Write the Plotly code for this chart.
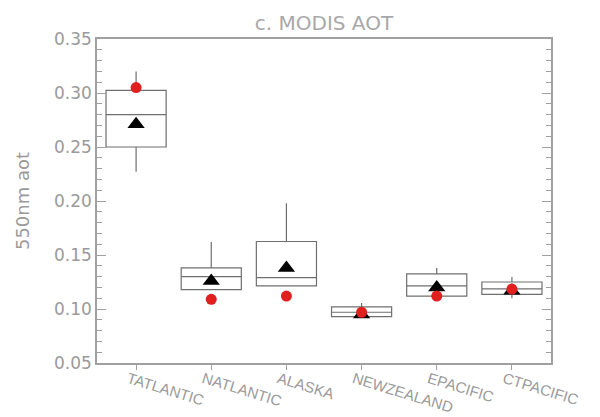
import plotly.graph_objects as go

# Regional summary statistics of MODIS 550 nm aerosol optical thickness
regions = ["TATLANTIC", "NATLANTIC", "ALASKA", "NEWZEALAND", "EPACIFIC", "CTPACIFIC"]
whisker_low = [0.227, 0.118, 0.1215, 0.092, 0.112, 0.110]
q1 = [0.250, 0.118, 0.1215, 0.093, 0.112, 0.1135]
median = [0.280, 0.130, 0.129, 0.097, 0.1215, 0.1187]
q3 = [0.3025, 0.138, 0.1625, 0.102, 0.1326, 0.125]
whisker_high = [0.320, 0.162, 0.198, 0.1055, 0.138, 0.1296]
mean_aot = [0.271, 0.126, 0.138, 0.095, 0.120, 0.117]
model_aot = [0.305, 0.109, 0.112, 0.097, 0.112, 0.1185]

yticks = [0.05, 0.10, 0.15, 0.20, 0.25, 0.30, 0.35]

grey_text = "#9a9a9a"
axis_grey = "#a0a0a0"

fig = go.Figure()

fig.add_trace(go.Box(
    x=regions,
    q1=q1,
    median=median,
    q3=q3,
    lowerfence=whisker_low,
    upperfence=whisker_high,
    width=0.8,
    whiskerwidth=0,
    fillcolor="rgba(255,255,255,0)",
    line=dict(color="#6f6f6f", width=1.2),
    boxpoints=False,
    hoverinfo="skip",
    showlegend=False,
))

fig.add_trace(go.Scatter(
    x=regions, y=mean_aot, mode="markers",
    marker=dict(symbol="triangle-up", size=15, color="black"),
    showlegend=False,
))

fig.add_trace(go.Scatter(
    x=regions, y=model_aot, mode="markers",
    marker=dict(symbol="circle", size=11, color="#e0201e"),
    showlegend=False,
))

fig.update_layout(
    width=600, height=417,
    margin=dict(l=97, r=49, t=39, b=54),
    paper_bgcolor="white",
    plot_bgcolor="white",
    title=dict(
        text="c. MODIS AOT",
        x=0.54, xanchor="center",
        y=0.946, yanchor="middle",
        font=dict(family="DejaVu Sans", size=20, color="#a8a8a8"),
    ),
    font=dict(family="DejaVu Sans", color=grey_text),
)

fig.update_xaxes(
    type="category",
    range=[-0.52, 5.52],
    automargin=False,
    showgrid=False,
    zeroline=False,
    showline=True, linecolor=axis_grey, linewidth=1.5,
    mirror=True,
    ticks="outside", ticklen=5, tickcolor=axis_grey,
    tickangle=17,
    ticklabelshift=-8,
    ticklabelstandoff=-5,
    tickfont=dict(family="Liberation Sans", size=15, color=grey_text),
)

fig.update_yaxes(
    range=[0.05, 0.35],
    automargin=False,
    tickvals=yticks,
    ticktext=[f"{v:.2f}" for v in yticks],
    showgrid=False,
    zeroline=False,
    showline=True, linecolor=axis_grey, linewidth=1.5,
    mirror="ticks",
    ticks="inside", ticklen=9, tickcolor=axis_grey,
    minor=dict(dtick=0.01, tick0=0.05, ticks="inside", ticklen=5, tickcolor=axis_grey),
    tickfont=dict(family="DejaVu Sans", size=17, color=grey_text),
    title=dict(text="550nm aot", standoff=20,
               font=dict(family="DejaVu Sans", size=18, color=grey_text)),
)

fig.write_html("out.html")
